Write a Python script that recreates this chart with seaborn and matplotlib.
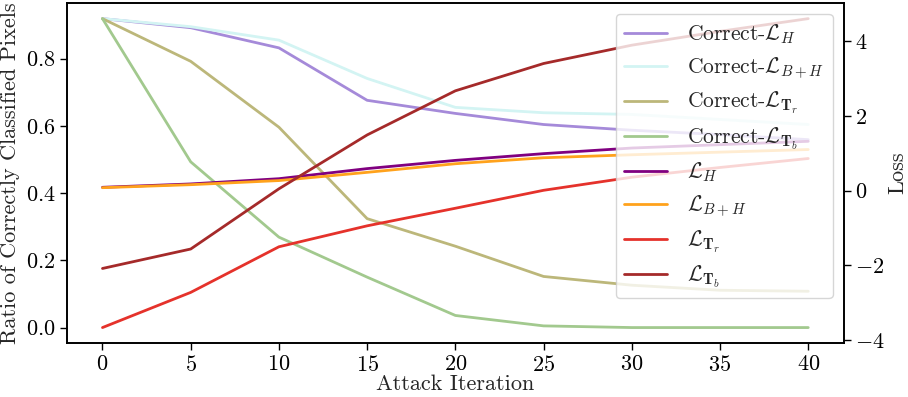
import numpy as np
import pandas as pd
import matplotlib
matplotlib.use("Agg")
import matplotlib.pyplot as plt
import seaborn as sns

iterations = [0, 5, 10, 15, 20, 25, 30, 35, 40]

correct_H = [0.919, 0.892, 0.832, 0.676, 0.637, 0.604, 0.587, 0.574, 0.559]
correct_BH = [0.919, 0.895, 0.855, 0.741, 0.655, 0.639, 0.634, 0.619, 0.604]
correct_Tr = [0.919, 0.792, 0.596, 0.324, 0.242, 0.152, 0.126, 0.111, 0.108]
correct_Tb = [0.919, 0.493, 0.269, 0.150, 0.036, 0.005, 0.0, 0.0, 0.0]

loss_H = [0.09, 0.18, 0.32, 0.59, 0.81, 0.99, 1.14, 1.23, 1.32]
loss_BH = [0.08, 0.16, 0.27, 0.49, 0.72, 0.88, 0.96, 1.03, 1.10]
loss_Tr = [-3.66, -2.72, -1.50, -0.94, -0.47, 0.01, 0.36, 0.62, 0.86]
loss_Tb = [-2.08, -1.56, 0.05, 1.49, 2.67, 3.40, 3.89, 4.26, 4.60]

correct_labels = [r'Correct-$\mathcal{L}_{H}$', r'Correct-$\mathcal{L}_{B+H}$',
                  r'Correct-$\mathcal{L}_{\mathbf{T}_r}$', r'Correct-$\mathcal{L}_{\mathbf{T}_b}$']
loss_labels = [r'$\mathcal{L}_{H}$', r'$\mathcal{L}_{B+H}$',
               r'$\mathcal{L}_{\mathbf{T}_r}$', r'$\mathcal{L}_{\mathbf{T}_b}$']
correct_colors = ['#a58ad9', '#d3f4f3', '#bcb77a', '#a2c98e']
loss_colors = ['#800080', '#ffa21c', '#e5322b', '#a52a2a']

sns.set_theme(style="ticks")
plt.rcParams.update({
    'font.family': 'serif',
    'font.serif': ['cmr10'],
    'mathtext.fontset': 'cm',
    'axes.formatter.use_mathtext': True,
    'font.size': 16,
    'axes.labelsize': 16,
    'xtick.labelsize': 16,
    'ytick.labelsize': 16,
    'legend.fontsize': 15.5,
    'axes.edgecolor': 'black',
    'axes.linewidth': 1.2,
    'xtick.color': 'black',
    'ytick.color': 'black',
    'xtick.major.size': 5,
    'ytick.major.size': 5,
    'xtick.major.width': 1.0,
    'ytick.major.width': 1.0,
})

fig, ax = plt.subplots(figsize=(9.08, 3.97), dpi=100)
fig.subplots_adjust(left=0.074, right=0.929, bottom=0.136, top=0.992)

ax2 = ax.twinx()

handles = []
for vals, lab, col in zip([correct_H, correct_BH, correct_Tr, correct_Tb], correct_labels, correct_colors):
    df = pd.DataFrame({'it': iterations, 'v': vals})
    sns.lineplot(data=df, x='it', y='v', ax=ax, color=col, linewidth=2, legend=False)
    handles.append(ax.get_lines()[-1])
    handles[-1].set_label(lab)

for vals, lab, col in zip([loss_H, loss_BH, loss_Tr, loss_Tb], loss_labels, loss_colors):
    df = pd.DataFrame({'it': iterations, 'v': vals})
    sns.lineplot(data=df, x='it', y='v', ax=ax2, color=col, linewidth=2, legend=False)
    handles.append(ax2.get_lines()[-1])
    handles[-1].set_label(lab)

ax.set_xticks(iterations)
ax.set_yticks([0.0, 0.2, 0.4, 0.6, 0.8])
ax2.set_yticks([-4, -2, 0, 2, 4])
ax.set_xlabel('Attack Iteration', labelpad=0)
ax.set_ylabel('Ratio of Correctly Classified Pixels')
ax2.set_ylabel('Loss', labelpad=2)

for a in (ax, ax2):
    for s in a.spines.values():
        s.set_visible(True)

ax2.legend(handles=handles, labels=[h.get_label() for h in handles], loc='upper right',
           framealpha=0.8, labelspacing=0.42, handletextpad=0.9)

fig.savefig('out.png', dpi=100)
